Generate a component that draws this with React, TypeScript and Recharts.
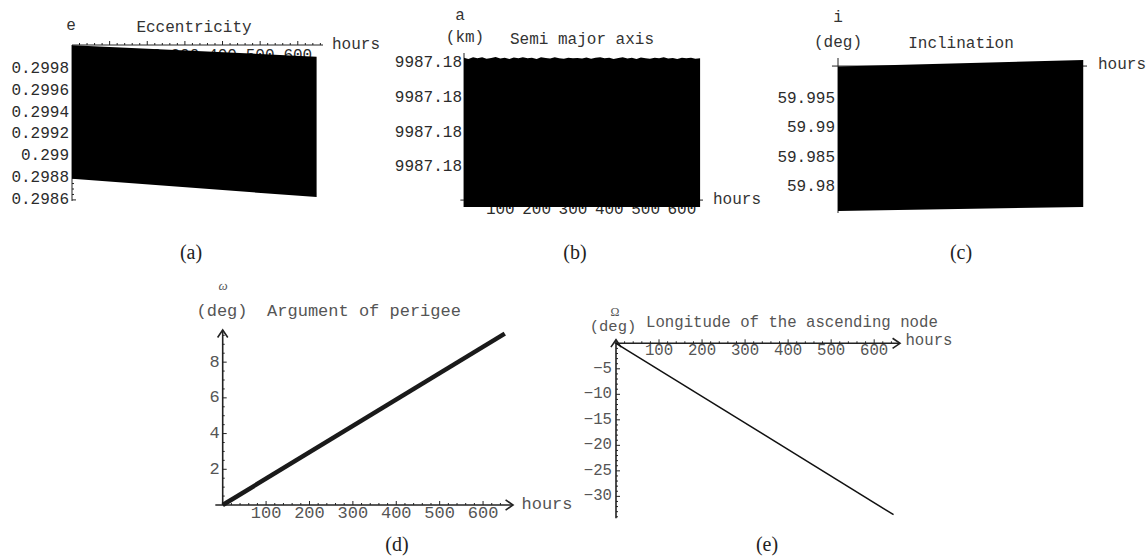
import { ComposedChart, Area, Line, XAxis, YAxis, ReferenceLine } from 'recharts';

const MONO = '"Liberation Mono", "DejaVu Sans Mono", monospace';
const SERIF = '"Liberation Serif", "DejaVu Serif", serif';

// (a) eccentricity, envelope of the fast oscillation
const eccHours = [0, 650];
const eccMin = [0.298794, 0.298626];
const eccMax = [0.300018, 0.299913];
const eccTicks = [0.2986, 0.2988, 0.299, 0.2992, 0.2994, 0.2996, 0.2998];

// (b) semi major axis (km)
const smaHours = [
  0, 12, 25, 37, 50, 62, 75, 87, 100, 112, 125, 137, 150, 162, 175, 187, 200, 212, 225, 237, 250, 262, 275, 287,
  300, 312, 325, 337, 350, 362, 375, 387, 400, 412, 425, 437, 450, 462, 475, 487, 500, 512, 525, 537, 550, 562,
  575, 587, 600, 612, 625, 637, 650,
];
const smaMax = [
  9987.1800032, 9987.1800026, 9987.1800035, 9987.1800029, 9987.1800036, 9987.1800027, 9987.1800031,
  9987.1800037, 9987.1800028, 9987.1800033, 9987.1800025, 9987.1800034, 9987.180003, 9987.1800036,
  9987.1800029, 9987.1800032, 9987.1800026, 9987.1800035, 9987.1800031, 9987.1800028, 9987.1800036,
  9987.180003, 9987.1800027, 9987.1800033, 9987.1800029, 9987.1800031, 9987.1800028, 9987.1800034,
  9987.1800027, 9987.1800032, 9987.1800036, 9987.1800029, 9987.1800033, 9987.1800026, 9987.1800031,
  9987.1800035, 9987.1800028, 9987.1800032, 9987.1800025, 9987.1800034, 9987.180003, 9987.1800027,
  9987.1800033, 9987.1800029, 9987.1800035, 9987.1800028, 9987.1800031, 9987.1800026, 9987.1800033,
  9987.1800029, 9987.1800032, 9987.1800027, 9987.180003,
];
const smaMin = 9987.179917;
const smaTicks = [9987.17994, 9987.17996, 9987.17998, 9987.18];
const smaAxisAt = 9987.179921;

// (c) inclination (deg)
const incHours = [0, 650];
const incMin = [59.97597, 59.97665];
const incMax = [60.00052, 60.00163];
const incTicks = [59.98, 59.985, 59.99, 59.995];
const incAxisAt = 60.0006;

// (d) argument of perigee (deg)
const argHours = [0, 650];
const argDeg = [0, 9.6];
const argTicks = [2, 4, 6, 8];

// (e) longitude of the ascending node (deg)
const raanHours = [0, 645];
const raanDeg = [0, -33.6];
const raanTicks = [-30, -25, -20, -15, -10, -5];

const hourTicks = [100, 200, 300, 400, 500, 600];

const eccData = eccHours.map((h, i) => ({ h, range: [eccMin[i], eccMax[i]] }));
const smaData = smaHours.map((h, i) => ({ h, range: [smaMin, smaMax[i]] }));
const incData = incHours.map((h, i) => ({ h, range: [incMin[i], incMax[i]] }));
const argData = argHours.map((h, i) => ({ h, v: argDeg[i] }));
const raanData = raanHours.map((h, i) => ({ h, v: raanDeg[i] }));

// majors plus minor tick marks in between
const withMinors = (majors: number[], from: number, to: number, step: number) => {
  const out = [...majors];
  for (let i = 0; from + i * step <= to + step / 1000; i++) {
    const v = +(from + i * step).toFixed(8);
    if (!majors.some((m) => Math.abs(m - v) < step / 100)) out.push(v);
  }
  return out.sort((a, b) => a - b);
};

type TickOpts = {
  side: 'x' | 'y';
  majors: number[];
  offset: number;
  size: number;
  color: string;
  fmt?: (v: number) => string;
  marks?: boolean;
};

const makeTick = (o: TickOpts) => (p: any) => {
  const v = p.payload.value;
  const major = o.majors.some((m) => Math.abs(m - v) < 1e-9);
  const len = major ? 4 : 2;
  const txt = o.fmt ? o.fmt(v) : String(v);
  if (o.side === 'x') {
    return (
      <g>
        {o.marks !== false && <line x1={p.x} x2={p.x} y1={p.y} y2={p.y - len} stroke="#222" />}
        {major && (
          <text x={p.x} y={p.y + o.offset} textAnchor="middle" dominantBaseline="central"
            fontFamily={MONO} fontSize={o.size} fill={o.color}>{txt}</text>
        )}
      </g>
    );
  }
  return (
    <g>
      {o.marks !== false && <line x1={p.x} x2={p.x + len} y1={p.y} y2={p.y} stroke="#222" />}
      {major && (
        <text x={p.x + o.offset} y={p.y} textAnchor="end" dominantBaseline="central"
          fontFamily={MONO} fontSize={o.size} fill={o.color}>{txt}</text>
      )}
    </g>
  );
};

const ArrowLine = (p: any) => {
  const { x1, y1, x2, y2 } = p;
  const a = Math.atan2(y2 - y1, x2 - x1);
  const s = 9;
  const l = [x2 - s * Math.cos(a - 0.6), y2 - s * Math.sin(a - 0.6)];
  const r = [x2 - s * Math.cos(a + 0.6), y2 - s * Math.sin(a + 0.6)];
  return (
    <g>
      <line x1={x1} y1={y1} x2={x2} y2={y2} stroke="#222" strokeWidth={1.6} />
      <polyline points={`${l[0]},${l[1]} ${x2},${y2} ${r[0]},${r[1]}`} fill="none" stroke="#222" strokeWidth={1.6} />
    </g>
  );
};

type TxtProps = { x: number; y: number; children: any; size?: number; color?: string; anchor?: 'start' | 'middle'; font?: string; italic?: boolean };
const Txt = ({ x, y, children, size = 16, color = '#333', anchor = 'middle', font = MONO, italic }: TxtProps) => (
  <div style={{
    position: 'absolute', left: x, top: y, transform: `translate(${anchor === 'middle' ? '-50%' : '0'}, -50%)`,
    fontFamily: font, fontSize: size, color, whiteSpace: 'nowrap', lineHeight: 1, fontStyle: italic ? 'italic' : 'normal',
  }}>{children}</div>
);

const Box = ({ x, y, children }: { x: number; y: number; children: any }) => (
  <div style={{ position: 'absolute', left: x, top: y }}>{children}</div>
);

// the black band sits in its own chart on top of the axes chart, with the same plot box,
// so that it covers the tick labels the way the original does
type BandProps = { x: number; y: number; w: number; h: number; m: { top: number; right: number; bottom: number; left: number }; data: any[]; xDom: number[]; yDom: number[] };
const Band = ({ x, y, w, h, m, data, xDom, yDom }: BandProps) => (
  <Box x={x} y={y}>
    <ComposedChart width={w} height={h} data={data} margin={m}>
      <XAxis dataKey="h" type="number" domain={xDom} hide />
      <YAxis type="number" domain={yDom} hide />
      <Area dataKey="range" type="linear" stroke="none" fill="#000" fillOpacity={1} isAnimationActive={false} />
    </ComposedChart>
  </Box>
);

// invisible copy of the band in the axes chart, so the y axis has data behind it
const Ghost = () => <Area dataKey="range" type="linear" stroke="none" fill="none" isAnimationActive={false} />;

const DARK = '#2b2b2b';
const GREY = '#555';

export default function App() {
  return (
    <div style={{ position: 'absolute', left: 0, top: 0, width: 1146, height: 556, background: '#fff', overflow: 'hidden' }}>
      {/* (a) */}
      <Box x={0} y={0}>
        <ComposedChart width={330} height={210} data={eccData} margin={{ top: 25, right: 7, bottom: 9, left: 12 }}>
          <XAxis dataKey="h" type="number" orientation="top" domain={[0, 667]} height={20}
            ticks={withMinors(hourTicks, 20, 660, 20)} interval={0} tickSize={0} tickMargin={0} tickLine={false}
            axisLine={{ stroke: '#222' }} tick={makeTick({ side: 'x', majors: hourTicks, offset: 11, size: 16, color: DARK })} />
          <YAxis type="number" domain={[0.29859, 0.30002]} width={60}
            ticks={withMinors(eccTicks, 0.2986, 0.3, 0.00005)} interval={0} tickSize={0} tickMargin={0} tickLine={false}
            axisLine={{ stroke: '#222' }} tick={makeTick({ side: 'y', majors: eccTicks, offset: -3, size: 16, color: DARK })} />
          {Ghost()}
        </ComposedChart>
      </Box>
      <Band x={0} y={0} w={330} h={210} m={{ top: 45, right: 7, bottom: 9, left: 72 }} data={eccData}
        xDom={[0, 667]} yDom={[0.29859, 0.30002]} />

      {/* (b) */}
      <Box x={380} y={30}>
        <ComposedChart width={330} height={202} data={smaData} margin={{ top: 23, right: 7, bottom: 5, left: 24 }}>
          <XAxis dataKey="h" type="number" domain={[0, 658]} height={20}
            ticks={hourTicks} interval={0} tickSize={0} tickMargin={0} tickLine={false} axisLine={false}
            tick={makeTick({ side: 'x', majors: hourTicks, offset: 2.5, size: 16, color: DARK, marks: false })} />
          <YAxis type="number" domain={[smaMin, 9987.180006]} width={60}
            ticks={smaTicks} interval={0} tickSize={0} tickMargin={0} tickLine={false} axisLine={{ stroke: '#222' }}
            tick={makeTick({ side: 'y', majors: smaTicks, offset: -2, size: 16, color: DARK, fmt: (v) => v.toFixed(2) })} />
          <ReferenceLine segment={[{ x: -10, y: smaAxisAt }, { x: 658, y: smaAxisAt }]} ifOverflow="visible" stroke="#222" />
          {Ghost()}
        </ComposedChart>
      </Box>
      <Band x={380} y={30} w={330} h={202} m={{ top: 23, right: 7, bottom: 25, left: 84 }} data={smaData}
        xDom={[0, 658]} yDom={[smaMin, 9987.180006]} />

      {/* (c) */}
      <Box x={760} y={30}>
        <ComposedChart width={334} height={188} data={incData} margin={{ top: 28, right: 7, bottom: 5, left: 18 }}>
          <XAxis dataKey="h" type="number" domain={[0, 660]} hide />
          <YAxis type="number" domain={[59.97563, 60.00197]} width={60}
            ticks={incTicks} interval={0} tickSize={0} tickMargin={0} tickLine={false} axisLine={{ stroke: '#222' }}
            tick={makeTick({ side: 'y', majors: incTicks, offset: -3, size: 16, color: DARK })} />
          <ReferenceLine segment={[{ x: -16, y: incAxisAt }, { x: 660, y: incAxisAt }]} ifOverflow="visible" stroke="#222" />
          {Ghost()}
        </ComposedChart>
      </Box>
      <Band x={760} y={30} w={334} h={188} m={{ top: 28, right: 7, bottom: 5, left: 78 }} data={incData}
        xDom={[0, 660]} yDom={[59.97563, 60.00197]} />

      {/* (d) */}
      <Box x={140} y={300}>
        <ComposedChart width={380} height={235} data={argData} margin={{ top: 30, right: 7, bottom: 5, left: 22.7 }}>
          <XAxis dataKey="h" type="number" domain={[0, 669]} height={25}
            ticks={withMinors(hourTicks, 20, 640, 20)} interval={0} tickSize={0} tickMargin={0} tickLine={false} axisLine={false}
            tick={makeTick({ side: 'x', majors: hourTicks, offset: 8.5, size: 17, color: GREY })} />
          <YAxis type="number" domain={[0, 9.8]} width={60}
            ticks={withMinors(argTicks, 0.5, 9.5, 0.5)} interval={0} tickSize={0} tickMargin={0} tickLine={false} axisLine={false}
            tick={makeTick({ side: 'y', majors: argTicks, offset: -3, size: 17, color: GREY })} />
          <ReferenceLine segment={[{ x: -17, y: 0 }, { x: 669, y: 0 }]} ifOverflow="visible" shape={ArrowLine} />
          <ReferenceLine segment={[{ x: 0, y: 0 }, { x: 0, y: 9.8 }]} ifOverflow="visible" shape={ArrowLine} />
          <Line dataKey="v" type="linear" stroke="#1a1a1a" strokeWidth={4.5} dot={false} isAnimationActive={false} />
        </ComposedChart>
      </Box>

      {/* (e) */}
      <Box x={540} y={300}>
        <ComposedChart width={367} height={224} data={raanData} margin={{ top: 23.3, right: 7, bottom: 5.7, left: 16 }}>
          <XAxis dataKey="h" type="number" orientation="top" domain={[0, 660]} height={20}
            ticks={withMinors(hourTicks, 20, 640, 20)} interval={0} tickSize={0} tickMargin={0} tickLine={false} axisLine={false}
            tick={makeTick({ side: 'x', majors: hourTicks, offset: 8, size: 15.7, color: GREY })} />
          <YAxis type="number" domain={[-34.3, 0]} width={60}
            ticks={withMinors(raanTicks, -34, -1, 1)} interval={0} tickSize={0} tickMargin={0} tickLine={false} axisLine={false}
            tick={makeTick({ side: 'y', majors: raanTicks, offset: -4, size: 15.7, color: GREY, fmt: (v) => `\u2212${Math.abs(v)}` })} />
          <ReferenceLine segment={[{ x: -3, y: 0 }, { x: 660, y: 0 }]} ifOverflow="visible" shape={ArrowLine} />
          <ReferenceLine segment={[{ x: 0, y: -34.3 }, { x: 0, y: 0.7 }]} ifOverflow="visible" shape={ArrowLine} />
          <Line dataKey="v" type="linear" stroke="#111" strokeWidth={1.5} dot={false} isAnimationActive={false} />
        </ComposedChart>
      </Box>

      {/* titles and axis names */}
      <Txt x={71} y={26}>e</Txt>
      <Txt x={194} y={28}>Eccentricity</Txt>
      <Txt x={356} y={45}>hours</Txt>

      <Txt x={460} y={16}>a</Txt>
      <Txt x={465} y={38}>(km)</Txt>
      <Txt x={582} y={40}>Semi major axis</Txt>
      <Txt x={737} y={200}>hours</Txt>

      <Txt x={838} y={18}>i</Txt>
      <Txt x={838} y={43}>(deg)</Txt>
      <Txt x={961} y={44}>Inclination</Txt>
      <Txt x={1122} y={65}>hours</Txt>

      <Txt x={223} y={285} size={13} color={GREY} font={SERIF} italic>ω</Txt>
      <Txt x={222} y={311} size={17} color={GREY}>(deg)</Txt>
      <Txt x={364} y={311} size={17} color={GREY}>Argument of perigee</Txt>
      <Txt x={547} y={504} size={17} color={GREY}>hours</Txt>

      <Txt x={615} y={312} size={12} color={GREY} font={SERIF}>Ω</Txt>
      <Txt x={613} y={328} size={15.5} color={GREY}>(deg)</Txt>
      <Txt x={646} y={324} size={15.7} color={GREY} anchor="start">Longitude of the ascending node</Txt>
      <Txt x={929} y={342} size={15.7} color={GREY}>hours</Txt>

      {/* sub-figure captions */}
      <Txt x={191} y={252} size={20} color="#222" font={SERIF}>(a)</Txt>
      <Txt x={575} y={252} size={20} color="#222" font={SERIF}>(b)</Txt>
      <Txt x={961} y={252} size={20} color="#222" font={SERIF}>(c)</Txt>
      <Txt x={397} y={544} size={20} color="#222" font={SERIF}>(d)</Txt>
      <Txt x={767} y={544} size={20} color="#222" font={SERIF}>(e)</Txt>
    </div>
  );
}
